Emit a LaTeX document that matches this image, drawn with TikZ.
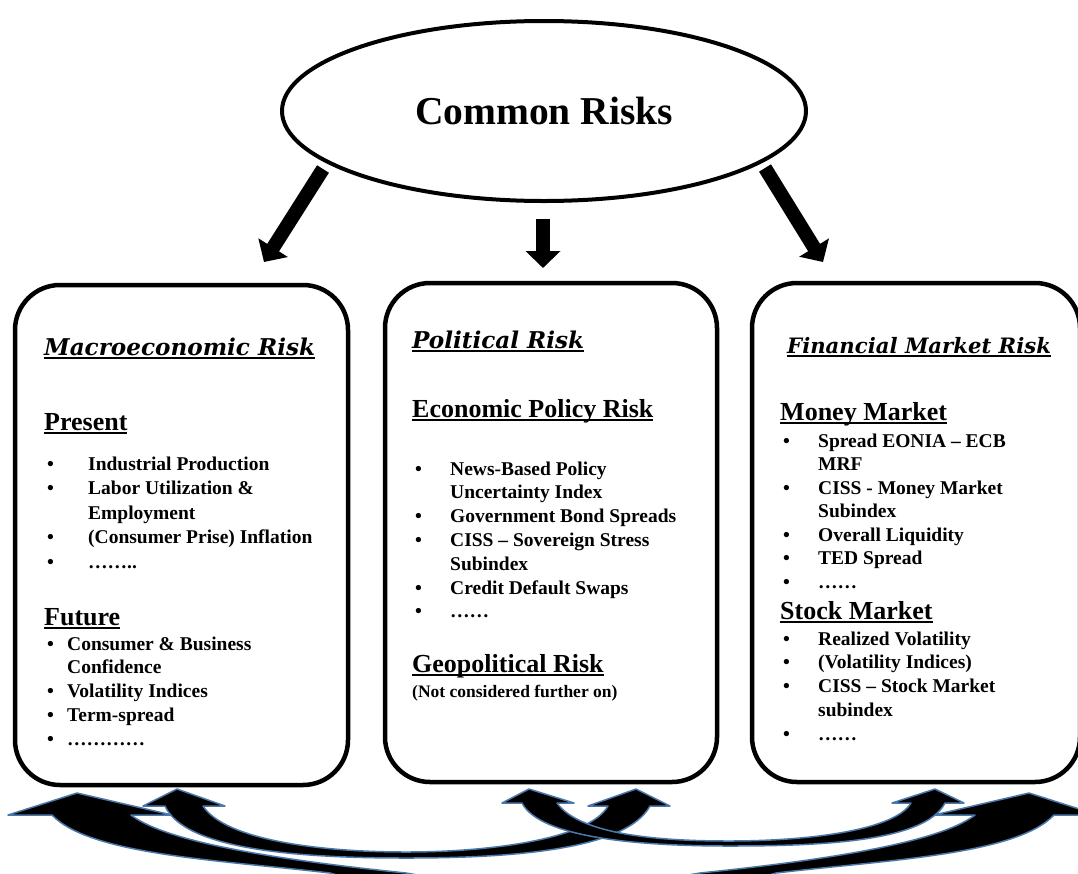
\documentclass[tikz,border=0pt]{standalone}
\usepackage{fontspec}
\setmainfont{Liberation Serif}
\newfontfamily\ttlfont{DejaVu Serif}
\usetikzlibrary{arrows.meta,shapes.geometric}
\definecolor{arrowblue}{RGB}{74,120,170}
\newsavebox{\ulbx}
\newcommand{\uln}[1]{\sbox\ulbx{#1}\rlap{\rule[-3.8pt]{\wd\ulbx}{1.6pt}}\usebox\ulbx}

\begin{document}
\begin{tikzpicture}[x=1pt,y=-1pt]
  \tikzstyle{rbox}=[draw,line width=4.5pt,rounded corners=45pt,inner sep=0pt]
  \tikzstyle{ttl}=[anchor=base west,inner sep=0pt,font={\ttlfont\bfseries\itshape\fontsize{23.1}{28}\selectfont}]
  \tikzstyle{hd}=[anchor=base west,inner sep=0pt,font={\bfseries\fontsize{26}{30}\selectfont}]
  \tikzstyle{lst}=[anchor=base west,inner sep=0pt,font={\bfseries\fontsize{19.5}{24}\selectfont}]
  \tikzstyle{fat}=[-{Triangle[length=17pt,width=34pt]},line width=14pt]
  \tikzstyle{barrow}=[fill=black,draw=arrowblue,line width=1.5pt,line join=round]

  \useasboundingbox (0,0) rectangle (1078,873);
  \clip (0,0) rectangle (1078,873);

  % top
  \node[draw,ellipse,line width=4pt,minimum width=524pt,minimum height=180pt,inner sep=0pt,
    font={\bfseries\fontsize{39.5}{44}\selectfont}] (common) at (544,111) {Common Risks};

  \coordinate (cl1) at (323,169); \coordinate (cl2) at (264,262);
  \coordinate (cm1) at (543,219); \coordinate (cm2) at (543,268);
  \coordinate (cr1) at (765,168); \coordinate (cr2) at (823,262);
  \draw[fat] (cl1) -- (cl2);
  \draw[fat] (cm1) -- (cm2);
  \draw[fat] (cr1) -- (cr2);

  % boxes
  \node[rbox,minimum width=333pt,minimum height=500pt] (macro) at (181.5,535) {};
  \node[rbox,minimum width=332pt,minimum height=499pt] (polit) at (551,532.5) {};
  \node[rbox,minimum width=328pt,minimum height=499pt] (finan) at (916,532.5) {};

  % macroeconomic
  \node[ttl] (t1) at (44,355) {\uln{Macroeconomic Risk}};
  \node[hd] (pres) at (44,430) {\uln{Present}};
  \node[lst,font={\bfseries\fontsize{19.5}{24.5}\selectfont}] (presl) at (47,470) {\begin{tabular}[t]{@{}p{41pt}@{}l@{}}
    • & Industrial Production\\
    • & Labor Utilization \&\\
      & Employment\\
    • & (Consumer Prise) Inflation\\
    • & ……..
  \end{tabular}};
  \node[hd] (fut) at (44,625) {\uln{Future}};
  \node[lst,font={\bfseries\fontsize{19.5}{23.75}\selectfont}] (futl) at (47,650) {\begin{tabular}[t]{@{}p{20pt}@{}l@{}}
    • & Consumer \& Business\\
      & Confidence\\
    • & Volatility Indices\\
    • & Term-spread\\
    • & …………
  \end{tabular}};

  % political
  \node[ttl] (t2) at (412,348) {\uln{Political Risk}};
  \node[hd] (econ) at (412,417) {\uln{Economic Policy Risk}};
  \node[lst,font={\bfseries\fontsize{19.5}{23.8}\selectfont}] (econl) at (415,475) {\begin{tabular}[t]{@{}p{35pt}@{}l@{}}
    • & News-Based Policy\\
      & Uncertainty Index\\
    • & Government Bond Spreads\\
    • & CISS – Sovereign Stress\\
      & Subindex\\
    • & Credit Default Swaps\\
    • & ……
  \end{tabular}};
  \node[hd] (geo) at (412,672) {\uln{Geopolitical Risk}};
  \node[anchor=base west,inner sep=0pt,font={\bfseries\fontsize{17.5}{20}\selectfont}] (geon) at (412,697) {(Not considered further on)};

  % financial
  \node[ttl,font={\ttlfont\bfseries\itshape\fontsize{21.2}{26}\selectfont}] (t3) at (787,353) {\uln{Financial Market Risk}};
  \node[hd] (money) at (780,420) {\uln{Money Market}};
  \node[lst,font={\bfseries\fontsize{19.5}{23.5}\selectfont}] (moneyl) at (783,447) {\begin{tabular}[t]{@{}p{35pt}@{}l@{}}
    • & Spread EONIA – ECB\\
      & MRF\\
    • & CISS - Money Market\\
      & Subindex\\
    • & Overall Liquidity\\
    • & TED Spread\\
    • & ……
  \end{tabular}};
  \node[hd] (stock) at (780,619) {\uln{Stock Market}};
  \node[lst,font={\bfseries\fontsize{19.5}{23.75}\selectfont}] (stockl) at (783,645) {\begin{tabular}[t]{@{}p{35pt}@{}l@{}}
    • & Realized Volatility\\
    • & (Volatility Indices)\\
    • & CISS – Stock Market\\
      & subindex\\
    • & ……
  \end{tabular}};

  % feedback arrows at the bottom
  \filldraw[barrow] (77,793) -- (172,815) -- (131,815)
    .. controls (170,845) and (300,862) .. (406,873) -- (520,893) -- (440,905) -- (330,873)
    .. controls (220,860) and (90,855) .. (52,815) -- (8,815) -- cycle;
  \begin{scope}[shift={(1106,0)},xscale=-1]
    \filldraw[barrow] (77,793) -- (172,815) -- (131,815)
      .. controls (170,845) and (300,862) .. (406,873) -- (520,893) -- (440,905) -- (330,873)
      .. controls (220,860) and (90,855) .. (52,815) -- (8,815) -- cycle;
  \end{scope}
  \filldraw[barrow] (177,789) -- (225,806) -- (203,806)
    .. controls (225,840) and (320,852) .. (406,852)
    .. controls (495,852) and (590,838) .. (608,806)
    -- (588,806) -- (636,789) -- (670,806) -- (650,806)
    .. controls (625,852) and (500,858) .. (406,858)
    .. controls (300,858) and (185,850) .. (165,806)
    -- (143,806) -- cycle;
  \filldraw[barrow] (529,789) -- (574,803) -- (557,803)
    .. controls (580,835) and (660,841) .. (729,841)
    .. controls (810,841) and (895,830) .. (911,803)
    -- (892,803) -- (935,789) -- (964,803) -- (945,803)
    .. controls (925,842) and (820,846) .. (729,846)
    .. controls (640,846) and (540,838) .. (522,803)
    -- (502,803) -- cycle;
\end{tikzpicture}
\end{document}
